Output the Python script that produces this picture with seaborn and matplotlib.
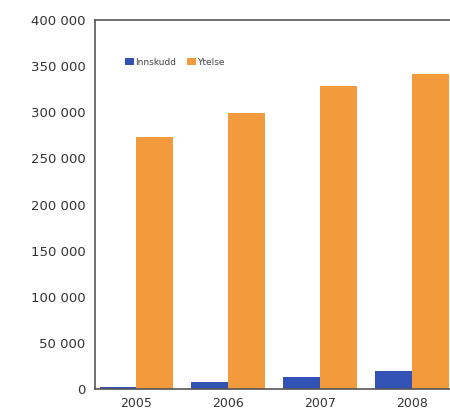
import matplotlib
matplotlib.use("Agg")
import matplotlib.pyplot as plt
import seaborn as sns
import pandas as pd
from matplotlib.ticker import FuncFormatter, FixedLocator

years = ["2005", "2006", "2007", "2008"]
innskudd = [2500, 7500, 13000, 19500]
ytelse = [273000, 299000, 328000, 342000]
series_names = ["Innskudd", "Ytelse"]
yticks = [0, 50000, 100000, 150000, 200000, 250000, 300000, 350000, 400000]

df = pd.DataFrame({
    "year": years * 2,
    "value": innskudd + ytelse,
    "series": [series_names[0]] * 4 + [series_names[1]] * 4,
})

sns.set_style("white")
plt.rcParams["font.family"] = ["DejaVu Sans"]

fig = plt.figure(figsize=(4.5, 4.19), dpi=100)
fig.patch.set_facecolor("white")
ax = fig.add_axes([95 / 450, 30 / 419, 363 / 450, 369 / 419])

palette = {"Innskudd": "#3352b5", "Ytelse": "#f39a3c"}
sns.barplot(data=df, x="year", y="value", hue="series", palette=palette,
            width=0.8, ax=ax, saturation=1, legend=True, linewidth=0,
            edgecolor="none")

ax.set_xlim(-0.45, 3.5)
ax.set_ylim(0, 400000)
ax.set_yticks(yticks)
ax.yaxis.set_major_formatter(FuncFormatter(lambda v, p: f"{int(v):,}".replace(",", " ")))
ax.set_xlabel("")
ax.set_ylabel("")

for s in ["left", "bottom", "top"]:
    ax.spines[s].set_color("#555555")
    ax.spines[s].set_linewidth(1.2)
ax.spines["right"].set_visible(False)

ax.tick_params(axis="y", which="major", direction="out", length=4, width=1,
               colors="#555555", labelcolor="#333333", labelsize=9.5, pad=3)
ax.tick_params(axis="x", which="major", length=0, labelcolor="#333333", labelsize=9, pad=6)
ax.xaxis.set_minor_locator(FixedLocator([0.5, 1.5, 2.5]))
ax.tick_params(axis="x", which="minor", direction="out", length=4, width=1, colors="#555555")

leg = ax.legend(loc="upper left", bbox_to_anchor=(0.06, 0.92), frameon=False,
                ncol=2, fontsize=6.5, handlelength=1.0, handleheight=0.8,
                handletextpad=0.1, columnspacing=1.2, labelcolor="#444444")

fig.savefig("out.png", dpi=100)
